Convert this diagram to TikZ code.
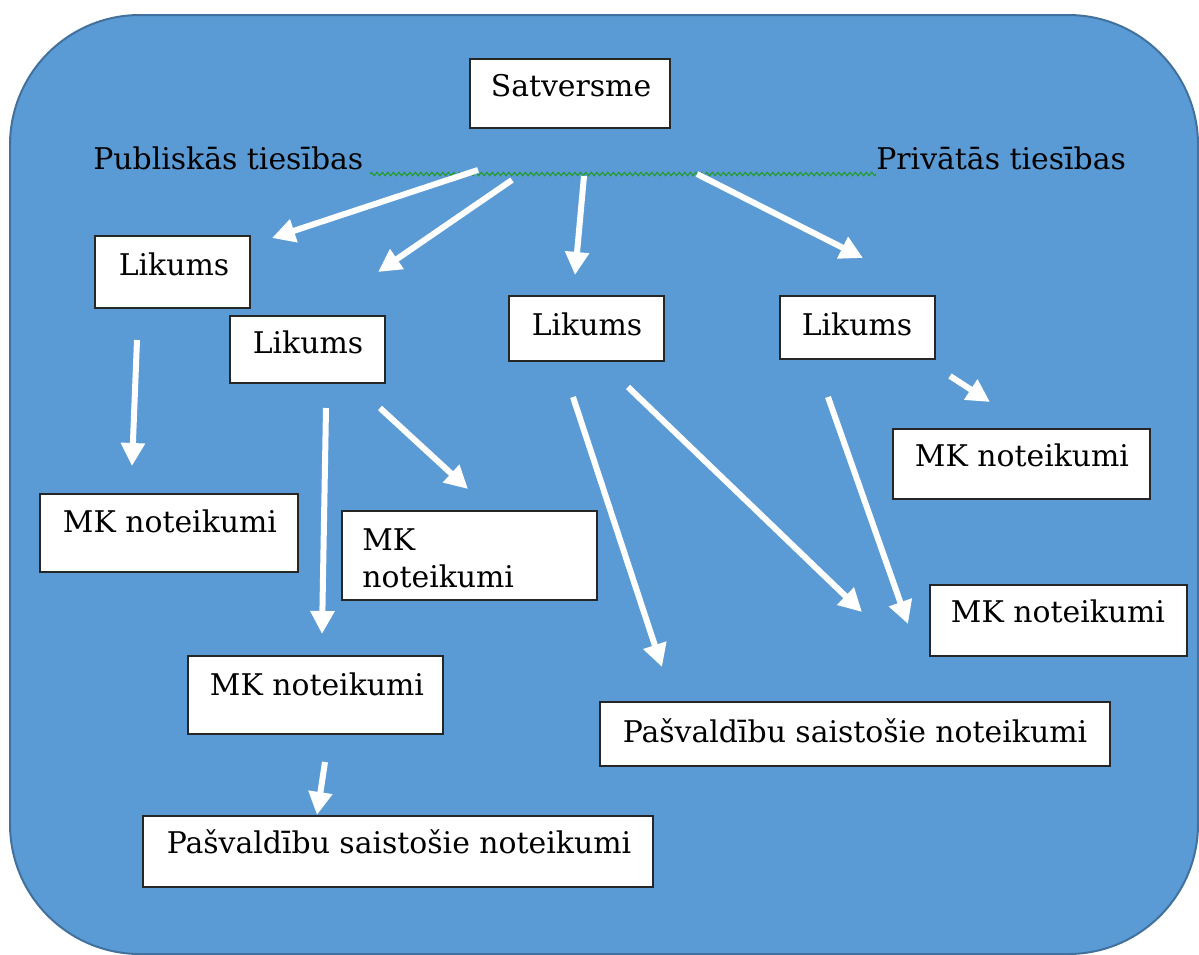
\documentclass[tikz,border=0pt]{standalone}
\usepackage{fontspec}
\setmainfont{DejaVu Serif}
\usetikzlibrary{arrows.meta,decorations.pathmorphing}
\definecolor{bgblue}{HTML}{5B9BD5}
\definecolor{bgedge}{HTML}{41719C}
\definecolor{squig}{HTML}{1E9B1E}
\begin{document}
\begin{tikzpicture}[x=0.02cm,y=-0.02cm,
  box/.style={draw=black!85,line width=0.04cm,fill=white,inner sep=0pt},
  txt/.style={font=\fontsize{17}{20}\selectfont,inner sep=0pt,anchor=base},
  warr/.style={draw=white,line width=0.12cm,-{Triangle[length=0.46cm,width=0.46cm]}}]
\useasboundingbox (0,0) rectangle (1199,954);
\path[fill=bgblue,draw=bgedge,line width=0.04cm,rounded corners=2.6cm] (10,15) rectangle (1198,954);
% boxes
\node[box,minimum width=4.0cm,minimum height=1.38cm] (sat) at (570,93.5) {};
\node[box,minimum width=3.1cm,minimum height=1.44cm] (lik1) at (172.5,272) {};
\node[box,minimum width=3.1cm,minimum height=1.34cm] (lik2) at (307.5,349.5) {};
\node[box,minimum width=3.1cm,minimum height=1.3cm] (lik3) at (586.5,328.5) {};
\node[box,minimum width=3.1cm,minimum height=1.26cm] (lik4) at (857.5,327.5) {};
\node[box,minimum width=5.16cm,minimum height=1.56cm] (mk1) at (169,533) {};
\node[box,minimum width=5.1cm,minimum height=1.78cm] (mk2) at (469.5,555.5) {};
\node[box,minimum width=5.1cm,minimum height=1.56cm] (mk3) at (315.5,695) {};
\node[box,minimum width=5.14cm,minimum height=1.4cm] (mk4) at (1021.5,464) {};
\node[box,minimum width=5.14cm,minimum height=1.42cm] (mk5) at (1058.5,620.5) {};
\node[box,minimum width=10.2cm,minimum height=1.42cm] (pas1) at (398,851.5) {};
\node[box,minimum width=10.2cm,minimum height=1.28cm] (pas2) at (855,734) {};
% texts
\node[txt] (tsat) at (571,96) {Satversme};
\node[txt] (tl1) at (174,275) {Likums};
\node[txt] (tl2) at (308,353) {Likums};
\node[txt] (tl3) at (587,335) {Likums};
\node[txt] (tl4) at (857,335) {Likums};
\node[txt] (tm1) at (170,532) {MK noteikumi};
\node[txt,anchor=base west] (tm2a) at (362,550) {MK};
\node[txt,anchor=base west] (tm2b) at (362,587) {noteikumi};
\node[txt] (tm3) at (317,695) {MK noteikumi};
\node[txt] (tm4) at (1022,466) {MK noteikumi};
\node[txt] (tm5) at (1058,622) {MK noteikumi};
\node[txt] (tp2) at (855,742) {Pašvaldību saistošie noteikumi};
\node[txt] (tp1) at (399,853) {Pašvaldību saistošie noteikumi};
\node[txt,anchor=base west] (pub) at (93,169) {Publiskās tiesības};
\node[txt,anchor=base west] (priv) at (876,169) {Privātās tiesības};
% squiggle
\coordinate (sqa) at (370,174);
\coordinate (sqb) at (876,174);
\draw[squig,line width=0.02cm,decorate,decoration={zigzag,amplitude=0.035cm,segment length=0.11cm}] (sqa) -- (sqb);
% arrows
\coordinate (a1s) at (478,170); \coordinate (a1e) at (272,238);
\coordinate (a2s) at (512,180); \coordinate (a2e) at (378,272);
\coordinate (a3s) at (584,176); \coordinate (a3e) at (575,275);
\coordinate (a4s) at (697,174); \coordinate (a4e) at (863,258);
\coordinate (a5s) at (137,340); \coordinate (a5e) at (132,466);
\coordinate (a6s) at (326,408); \coordinate (a6e) at (322,634);
\coordinate (a7s) at (380,408); \coordinate (a7e) at (468,489);
\coordinate (a8s) at (573,397); \coordinate (a8e) at (662,667);
\coordinate (a9s) at (628,387); \coordinate (a9e) at (862,612);
\coordinate (a10s) at (828,397); \coordinate (a10e) at (908,624);
\coordinate (a11s) at (950,376); \coordinate (a11e) at (990,402);
\coordinate (a12s) at (325,762); \coordinate (a12e) at (317,815);
\foreach \i in {1,...,12} {\draw[warr] (a\i s) -- (a\i e);}
\end{tikzpicture}
\end{document}
